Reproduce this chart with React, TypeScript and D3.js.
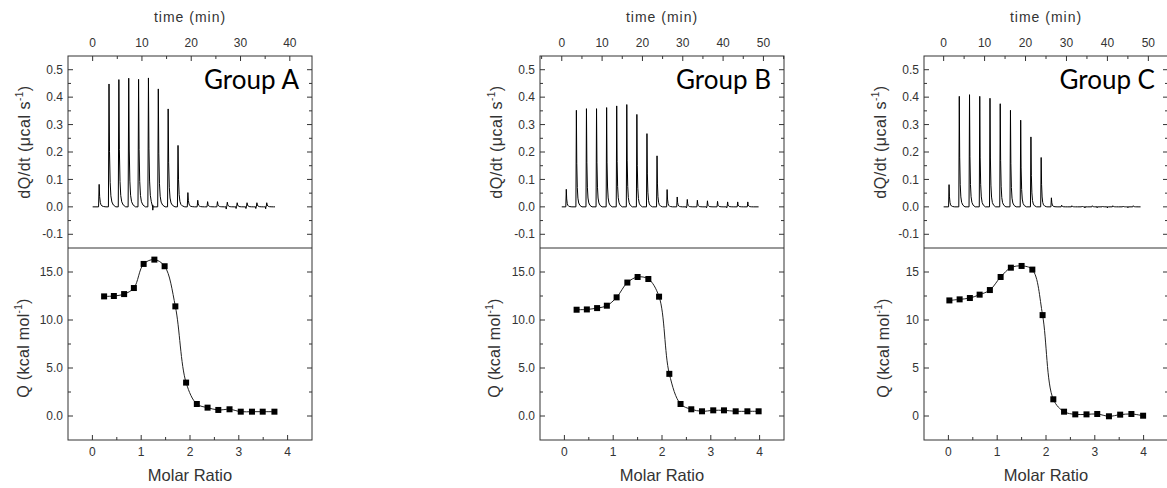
import React from "react";
import * as d3 from "d3";

const W = 1167;
const H = 488;

const GROUP_NAMES = ["Group A", "Group B", "Group C"];

// ---- Thermogram (top) data: injection times (min) and peak heights (µcal/s)
const INJ_TIME_A = [1.2, 3.2, 5.2, 7.2, 9.2, 11.2, 13.2, 15.2, 17.2, 19.2, 21.2, 23.2, 25.2, 27.2, 29.2, 31.2, 33.2, 35.2];
const INJ_PEAK_A = [0.082, 0.448, 0.464, 0.469, 0.465, 0.47, 0.43, 0.357, 0.224, 0.052, 0.024, 0.019, 0.019, 0.017, 0.015, 0.015, 0.015, 0.015];
const DIP_TIME_A = [12.2, 27.1, 29.1, 31.1, 33.1, 35.1];
const DIP_VAL_A = [-0.012, -0.008, -0.006, -0.006, -0.006, -0.007];
const TRACE_RANGE_A = [0, 37];

const INJ_TIME_B = [1.0, 3.5, 6.0, 8.5, 11.0, 13.5, 16.0, 18.5, 21.0, 23.5, 26.0, 28.5, 31.0, 33.5, 36.0, 38.5, 41.0, 43.5, 46.0];
const INJ_PEAK_B = [0.064, 0.352, 0.358, 0.358, 0.362, 0.368, 0.373, 0.337, 0.267, 0.186, 0.063, 0.036, 0.027, 0.024, 0.022, 0.02, 0.018, 0.018, 0.018];
const DIP_TIME_B = [30.9, 35.9, 40.9];
const DIP_VAL_B = [-0.003, -0.003, -0.003];
const TRACE_RANGE_B = [0, 48.8];

const INJ_TIME_C = [1.2, 3.7, 6.2, 8.7, 11.2, 13.7, 16.2, 18.7, 21.2, 23.7, 26.2, 28.7, 31.2, 33.7, 36.2, 38.7, 41.2, 43.7, 46.2];
const INJ_PEAK_C = [0.081, 0.403, 0.409, 0.403, 0.396, 0.376, 0.352, 0.316, 0.255, 0.18, 0.033, 0.006, 0.004, 0.003, 0.004, 0.003, 0.004, 0.003, 0.004];
const DIP_TIME_C = [34.5, 37.5, 40.0, 45.0];
const DIP_VAL_C = [-0.004, -0.003, -0.004, -0.003];
const TRACE_RANGE_C = [0, 48.1];

// relative shape of one injection peak (minutes after injection, fraction of height)
const PEAK_SHAPE_DT = [0, 0.12, 0.22, 0.35, 0.5, 0.7, 1.0, 1.5];
const PEAK_SHAPE_FRAC = [0, 1, 0.45, 0.2, 0.09, 0.04, 0.015, 0];

// ---- Integrated heats (bottom)
const MOLAR_A = [0.24, 0.44, 0.65, 0.85, 1.05, 1.27, 1.48, 1.7, 1.92, 2.14, 2.36, 2.58, 2.81, 3.04, 3.27, 3.49, 3.73];
const Q_A = [12.46, 12.5, 12.7, 13.33, 15.84, 16.29, 15.6, 11.42, 3.48, 1.25, 0.87, 0.63, 0.7, 0.45, 0.45, 0.45, 0.45];

const MOLAR_B = [0.25, 0.46, 0.67, 0.87, 1.07, 1.29, 1.5, 1.72, 1.94, 2.15, 2.38, 2.6, 2.82, 3.05, 3.27, 3.51, 3.75, 3.98];
const Q_B = [11.07, 11.1, 11.24, 11.49, 12.36, 13.9, 14.48, 14.27, 12.43, 4.39, 1.25, 0.7, 0.49, 0.59, 0.59, 0.49, 0.49, 0.49];

const MOLAR_C = [0.02, 0.23, 0.44, 0.64, 0.85, 1.07, 1.28, 1.5, 1.72, 1.93, 2.15, 2.37, 2.6, 2.83, 3.05, 3.29, 3.52, 3.75, 3.99];
const Q_C = [12.04, 12.15, 12.29, 12.64, 13.12, 14.48, 15.45, 15.63, 15.25, 10.51, 1.74, 0.45, 0.17, 0.17, 0.21, -0.03, 0.14, 0.21, 0.03];

// ---- Ticks
const TIME_TICKS_A = [0, 10, 20, 30, 40];
const TIME_TICKS_BC = [0, 10, 20, 30, 40, 50];
const RATE_TICKS = [-0.1, 0.0, 0.1, 0.2, 0.3, 0.4, 0.5];
const Q_TICKS = [0, 5, 10, 15];
const MOLAR_TICKS = [0, 1, 2, 3, 4];

const FRAME_W = 244;
const TOP_Y0 = 56;
const MID_Y = 248;
const BOT_Y1 = 440;

const TICK_FONT = "Arial, 'Liberation Sans', sans-serif";
const TXT = "#333";
const AX = "#333";

type PanelProps = {
  left: number;
  name: string;
  timeDomain: [number, number];
  timeTicks: number[];
  injTime: number[];
  injPeak: number[];
  dipTime: number[];
  dipVal: number[];
  traceRange: number[];
  molar: number[];
  q: number[];
  qDecimals: boolean;
  qLabelOff: number;
};

function Panel(p: PanelProps) {
  const L = p.left;
  const R = L + FRAME_W;
  const xt = d3.scaleLinear().domain(p.timeDomain).range([L, R]);
  const yt = d3.scaleLinear().domain([-0.15, 0.55]).range([MID_Y, TOP_Y0]);
  const xm = d3.scaleLinear().domain([-0.5, 4.5]).range([L, R]);
  const yq = d3.scaleLinear().domain([-2.5, 17.5]).range([BOT_Y1, MID_Y]);

  // build thermogram trace
  const pts: [number, number][] = [[p.traceRange[0], 0]];
  p.injTime.forEach((t, i) => {
    PEAK_SHAPE_DT.forEach((dt, k) => {
      pts.push([t + dt, p.injPeak[i] * PEAK_SHAPE_FRAC[k]]);
    });
  });
  p.dipTime.forEach((t, i) => {
    pts.push([t - 0.03, 0]);
    pts.push([t, p.dipVal[i]]);
    pts.push([t + 0.03, 0]);
  });
  pts.push([p.traceRange[1], 0]);
  pts.sort((a, b) => a[0] - b[0]);
  const trace = d3
    .line<[number, number]>()
    .x((d) => xt(d[0]))
    .y((d) => yt(d[1]))(pts);

  const fit = d3
    .line<number>()
    .curve(d3.curveCatmullRom.alpha(0.5))
    .x((d, i) => xm(p.molar[i]))
    .y((d) => yq(d))(p.q);

  const MAJ = 5;
  const MIN = 3;

  const timeMinor = d3
    .range(Math.ceil(p.timeDomain[0] / 5) * 5, p.timeDomain[1], 5)
    .filter((v) => v % 10 !== 0 && v > p.timeDomain[0]);
  const rateMinor = [-0.05, 0.05, 0.15, 0.25, 0.35, 0.45];
  const qMinor = [2.5, 7.5, 12.5];
  const molarMinor = [0.5, 1.5, 2.5, 3.5];

  const fmtQ = (v: number) => (p.qDecimals ? v.toFixed(1) : String(v));
  const cx = (L + R) / 2;

  return (
    <g>
      {/* frame */}
      <rect x={L} y={TOP_Y0} width={FRAME_W} height={BOT_Y1 - TOP_Y0} fill="none" stroke={AX} strokeWidth={1} />
      <line x1={L} x2={R} y1={MID_Y} y2={MID_Y} stroke={AX} strokeWidth={1} />

      {/* top time axis */}
      {p.timeTicks.map((v) => (
        <g key={"tt" + v}>
          <line x1={xt(v)} x2={xt(v)} y1={TOP_Y0} y2={TOP_Y0 + MAJ} stroke={AX} />
          <text x={xt(v)} y={47} textAnchor="middle" fontSize={12} fontFamily={TICK_FONT} fill={TXT}>
            {v}
          </text>
        </g>
      ))}
      {timeMinor.map((v) => (
        <line key={"tm" + v} x1={xt(v)} x2={xt(v)} y1={TOP_Y0} y2={TOP_Y0 + MIN} stroke={AX} />
      ))}
      <text x={cx} y={21.5} textAnchor="middle" fontSize={14} letterSpacing={1} fontFamily={TICK_FONT} fill={TXT}>
        time (min)
      </text>

      {/* rate axis (left + right) */}
      {RATE_TICKS.map((v) => (
        <g key={"rt" + v}>
          <line x1={L} x2={L + MAJ} y1={yt(v)} y2={yt(v)} stroke={AX} />
          <line x1={R} x2={R - MAJ} y1={yt(v)} y2={yt(v)} stroke={AX} />
          <text x={L - 5} y={yt(v)} dy="0.35em" textAnchor="end" fontSize={12} fontFamily={TICK_FONT} fill={TXT}>
            {v.toFixed(1)}
          </text>
        </g>
      ))}
      {rateMinor.map((v) => (
        <g key={"rm" + v}>
          <line x1={L} x2={L + MIN} y1={yt(v)} y2={yt(v)} stroke={AX} />
          <line x1={R} x2={R - MIN} y1={yt(v)} y2={yt(v)} stroke={AX} />
        </g>
      ))}
      <text
        transform={`translate(${L - 38},${142}) rotate(-90)`}
        textAnchor="middle"
        fontSize={16}
        letterSpacing={0.5}
        fontFamily={TICK_FONT}
        fill={TXT}
      >
        dQ/dt (μcal s
        <tspan fontSize={10} dy={-7}>-1</tspan>
        <tspan dy={7}>)</tspan>
      </text>

      {/* thermogram */}
      <path d={trace || ""} fill="none" stroke="#000" strokeWidth={1} strokeLinejoin="round" />

      <text x={R - 13} y={89} textAnchor="end" fontSize={26} fontFamily="Lato, 'Open Sans', sans-serif" fill="#000">
        {p.name}
      </text>

      {/* bottom Q axis */}
      {Q_TICKS.map((v) => (
        <g key={"qt" + v}>
          <line x1={L} x2={L + MAJ} y1={yq(v)} y2={yq(v)} stroke={AX} />
          <line x1={R} x2={R - MAJ} y1={yq(v)} y2={yq(v)} stroke={AX} />
          <text x={L - 5} y={yq(v)} dy="0.35em" textAnchor="end" fontSize={12} fontFamily={TICK_FONT} fill={TXT}>
            {fmtQ(v)}
          </text>
        </g>
      ))}
      {qMinor.map((v) => (
        <g key={"qm" + v}>
          <line x1={L} x2={L + MIN} y1={yq(v)} y2={yq(v)} stroke={AX} />
          <line x1={R} x2={R - MIN} y1={yq(v)} y2={yq(v)} stroke={AX} />
        </g>
      ))}
      <text
        transform={`translate(${L - p.qLabelOff},${348}) rotate(-90)`}
        textAnchor="middle"
        fontSize={16}
        letterSpacing={0.3}
        fontFamily={TICK_FONT}
        fill={TXT}
      >
        Q (kcal mol
        <tspan fontSize={10} dy={-7}>-1</tspan>
        <tspan dy={7}>)</tspan>
      </text>

      {/* molar ratio axis */}
      {MOLAR_TICKS.map((v) => (
        <g key={"mt" + v}>
          <line x1={xm(v)} x2={xm(v)} y1={BOT_Y1} y2={BOT_Y1 - MAJ} stroke={AX} />
          <text x={xm(v)} y={456} textAnchor="middle" fontSize={12} fontFamily={TICK_FONT} fill={TXT}>
            {v}
          </text>
        </g>
      ))}
      {molarMinor.map((v) => (
        <line key={"mm" + v} x1={xm(v)} x2={xm(v)} y1={BOT_Y1} y2={BOT_Y1 - MIN} stroke={AX} />
      ))}
      <text x={cx} y={481} textAnchor="middle" fontSize={16.5} fontFamily={TICK_FONT} fill={TXT}>
        Molar Ratio
      </text>

      {/* fit + points */}
      <path d={fit || ""} fill="none" stroke="#222" strokeWidth={1} />
      {p.q.map((v, i) => (
        <rect key={"pt" + i} x={xm(p.molar[i]) - 3} y={yq(v) - 3} width={6} height={6} fill="#000" />
      ))}
    </g>
  );
}

export default function App() {
  return (
    <svg
      width={W}
      height={H}
      viewBox={`0 0 ${W} ${H}`}
      style={{ position: "absolute", left: 0, top: 0, background: "#fff" }}
    >
      <rect width={W} height={H} fill="#fff" />
      <Panel
        left={68}
        name={GROUP_NAMES[0]}
        timeDomain={[-5, 44.5]}
        timeTicks={TIME_TICKS_A}
        injTime={INJ_TIME_A}
        injPeak={INJ_PEAK_A}
        dipTime={DIP_TIME_A}
        dipVal={DIP_VAL_A}
        traceRange={TRACE_RANGE_A}
        molar={MOLAR_A}
        q={Q_A}
        qDecimals={true}
        qLabelOff={39}
      />
      <Panel
        left={540}
        name={GROUP_NAMES[1]}
        timeDomain={[-5.4, 55.1]}
        timeTicks={TIME_TICKS_BC}
        injTime={INJ_TIME_B}
        injPeak={INJ_PEAK_B}
        dipTime={DIP_TIME_B}
        dipVal={DIP_VAL_B}
        traceRange={TRACE_RANGE_B}
        molar={MOLAR_B}
        q={Q_B}
        qDecimals={true}
        qLabelOff={40}
      />
      <Panel
        left={924}
        name={GROUP_NAMES[2]}
        timeDomain={[-4.8, 54.8]}
        timeTicks={TIME_TICKS_BC}
        injTime={INJ_TIME_C}
        injPeak={INJ_PEAK_C}
        dipTime={DIP_TIME_C}
        dipVal={DIP_VAL_C}
        traceRange={TRACE_RANGE_C}
        molar={MOLAR_C}
        q={Q_C}
        qDecimals={false}
        qLabelOff={35}
      />
    </svg>
  );
}
